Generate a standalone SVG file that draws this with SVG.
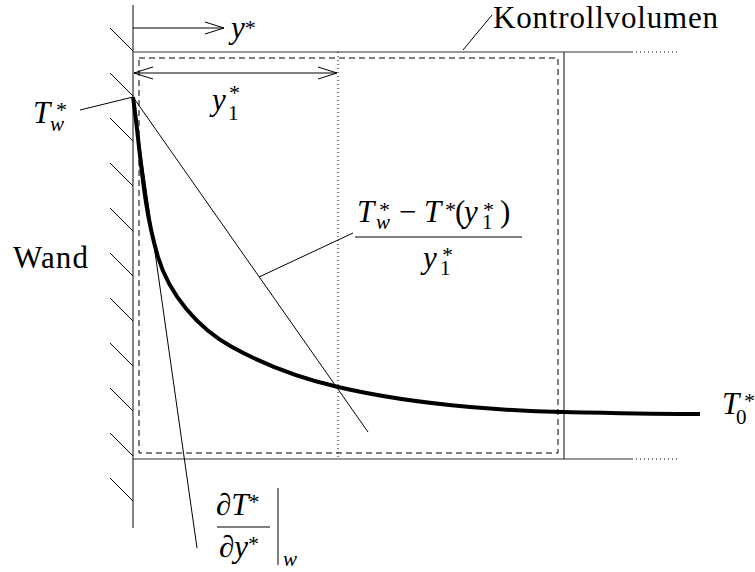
<svg xmlns="http://www.w3.org/2000/svg" width="755" height="572" viewBox="0 0 755 572">
<style>
.thin{stroke:#000;stroke-width:1;fill:none}
.box{stroke:#333;stroke-width:1.2;fill:none}
.dash{stroke:#000;stroke-width:1;fill:none;stroke-dasharray:6,4}
.dot{stroke:#000;stroke-width:1;fill:none;stroke-dasharray:1,3}
text{font-family:"Liberation Serif","Times New Roman","DejaVu Serif",serif;fill:#000;font-size:31px}
.i{font-style:italic}
.n{font-style:normal}
.sm{font-size:21px}
.st{font-size:22px;font-style:normal}
</style>
<rect width="755" height="572" fill="#fff"/>
<g id="wall">
<line class="box" x1="133" y1="5" x2="133" y2="528" stroke-width="1.5"/>
<path class="thin" d="M110,28 l23,23 M110,73 l23,23 M110,118 l23,23 M110,163 l23,23 M110,208 l23,23 M110,253 l23,23 M110,298 l23,23 M110,343 l23,23 M110,388 l23,23 M110,433 l23,23 M110,478 l23,23"/>
<text x="13" y="268" font-size="30" textLength="75" font-family="Liberation Serif, serif">Wand</text>
</g>
<g id="kontrollvolumen">
<path class="box" d="M133,52 H633 M133,459 H633 M564,52 V459"/>
<path class="dot" d="M636,52 H680 M636,459 H680"/>
<rect class="dash" x="139" y="58" width="419" height="395"/>
<line class="thin" x1="463" y1="50" x2="492" y2="15"/>
<text x="493" y="28" font-size="30" textLength="225" font-family="Liberation Serif, serif">Kontrollvolumen</text>
</g>
<g id="y1-line">
<line class="dot" x1="338" y1="52" x2="338" y2="459"/>
</g>
<g id="connectors">
<path class="thin" d="M133,28 H224 M205,22 L224,28 L205,34"/>
<path class="thin" d="M134,73 H337 M153,67 L134,73 L153,79 M318,67 L337,73 L318,79"/>
<line class="thin" x1="80" y1="110" x2="133" y2="97"/>
<line class="thin" x1="133" y1="97" x2="368" y2="432"/>
<line class="thin" x1="259" y1="277" x2="353" y2="233"/>
<line class="thin" x1="133" y1="97" x2="197" y2="548"/>
</g>
<g id="curve">
<path d="M133,97 C140.6,150.5 142.5,205.3 158,257 C169.2,294.4 197.8,328.2 232,347 C265.3,365.3 301,378.4 338,387 C381.3,397.1 425.7,403.1 470,407 C500.9,409.7 532,411.4 563,412 C608.7,412.9 654.3,414 700,414" fill="none" stroke="#000" stroke-width="4" stroke-linejoin="round"/>
</g>
<g id="label-ystar">
<text class="i" x="231" y="38">y<tspan class="st" dy="-3">*</tspan></text>
</g>
<g id="label-y1">
<text class="i"><tspan x="212" y="110">y</tspan><tspan class="st" x="229" y="100">*</tspan><tspan class="sm n" x="228" y="120">1</tspan></text>
</g>
<g id="label-Tw">
<text class="i"><tspan x="33" y="123">T</tspan><tspan class="st" x="56" y="117">*</tspan><tspan class="sm" x="50" y="131">w</tspan></text>
</g>
<g id="label-fraction">
<text class="i"><tspan x="357" y="222">T</tspan><tspan class="st" x="379" y="217">*</tspan><tspan class="sm" x="376" y="229">w</tspan><tspan class="n" x="399" y="222">−</tspan><tspan x="424" y="222">T</tspan><tspan class="st" x="445" y="217">*</tspan><tspan class="n" x="455" y="222">(</tspan><tspan x="464" y="222">y</tspan><tspan class="st" x="483" y="217">*</tspan><tspan class="sm n" x="482" y="229">1</tspan><tspan class="n" x="500" y="222">)</tspan></text>
<line class="thin" x1="355" y1="237" x2="522" y2="237" stroke-width="1.3"/>
<text class="i"><tspan x="423" y="268">y</tspan><tspan class="st" x="442" y="262">*</tspan><tspan class="sm n" x="440" y="275">1</tspan></text>
</g>
<g id="label-T0">
<text class="i"><tspan x="722" y="414">T</tspan><tspan class="st" x="744" y="408">*</tspan><tspan class="sm n" x="736" y="424">0</tspan></text>
</g>
<g id="label-derivative">
<text class="i" x="216" y="515">∂T<tspan class="st" dy="-6">*</tspan></text>
<line class="thin" x1="217" y1="527" x2="270" y2="527" stroke-width="1.3"/>
<text class="i" x="219" y="557">∂y<tspan class="st" dy="-6">*</tspan></text>
<line class="thin" x1="278" y1="488" x2="278" y2="565" stroke-width="1.3"/>
<text class="i sm" x="283" y="566">w</text>
</g>
</svg>
